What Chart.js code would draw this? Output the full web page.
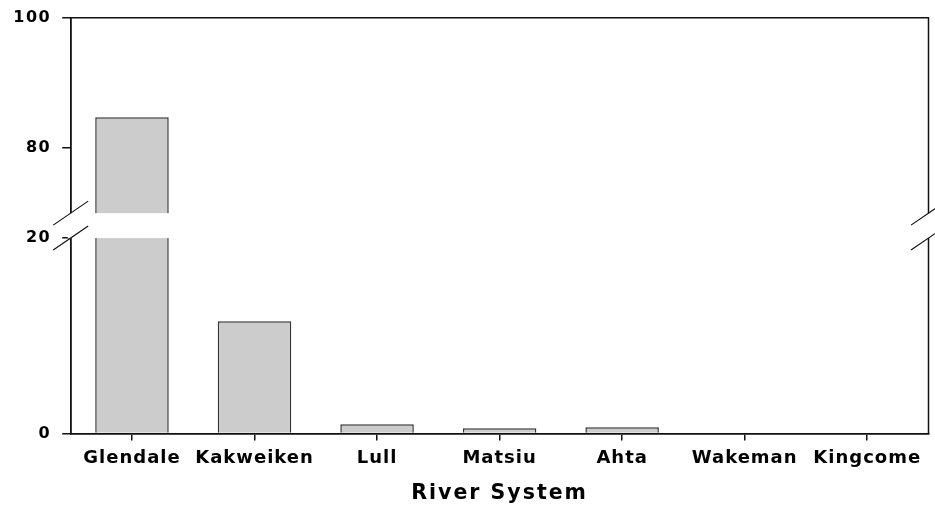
<!DOCTYPE html>
<html>
<head>
<meta charset="utf-8">
<script src="https://cdn.jsdelivr.net/npm/chart.js@4/dist/chart.umd.min.js"></script>
<style>
  html, body { margin: 0; padding: 0; background: #ffffff; }
  canvas { display: block; }
</style>
</head>
<body>
<canvas id="chart" width="935" height="506"></canvas>
<script>
// River systems and their bar heights
const rivers = ['Glendale', 'Kakweiken', 'Lull', 'Matsiu', 'Ahta', 'Wakeman', 'Kingcome'];
const values = [84.7, 11.5, 0.95, 0.55, 0.65, 0, 0];

// Value axis: labelled ticks and the two visible segments of the broken axis
const yTicks = [0, 20, 80, 100];
const lowerSegment = [0, 20];
const upperSegment = [70, 100];
const GAP_SHARE = 0.06;   // share of the plot height left blank at the break

const INK = '#111111';
const FONT = 'DejaVu Sans';

// Linear scale with a break: [0,20] fills the lower half, [70,100] the upper half
class BrokenScale extends Chart.LinearScale {
  static id = 'broken';
  static defaults = Chart.LinearScale.defaults;

  buildTicks() {
    return yTicks.map(v => ({ value: v }));
  }

  _fraction(v) {
    const seg = (1 - GAP_SHARE) / 2;
    const [l0, l1] = lowerSegment;
    const [u0, u1] = upperSegment;
    if (v <= l1) return (v - l0) / (l1 - l0) * seg;
    if (v >= u0) return seg + GAP_SHARE + (v - u0) / (u1 - u0) * seg;
    return seg + (v - l1) / (u0 - l1) * GAP_SHARE;
  }

  getPixelForValue(v) {
    if (v === null || v === undefined || isNaN(v)) return NaN;
    return this.bottom - this._fraction(v) * (this.bottom - this.top);
  }

  getValueForPixel(p) {
    const f = (this.bottom - p) / (this.bottom - this.top);
    const seg = (1 - GAP_SHARE) / 2;
    const [l0, l1] = lowerSegment;
    const [u0, u1] = upperSegment;
    if (f <= seg) return l0 + f / seg * (l1 - l0);
    if (f >= seg + GAP_SHARE) return u0 + (f - seg - GAP_SHARE) / seg * (u1 - u0);
    return l1 + (f - seg) / GAP_SHARE * (u0 - l1);
  }
}
Chart.register(BrokenScale);

// Draw a scale's text with extra letter spacing
function spaced(fn, spacing) {
  return function (...args) {
    const c = this.ctx;
    const prev = c.letterSpacing;
    c.letterSpacing = spacing;
    try { return fn.apply(this, args); } finally { c.letterSpacing = prev; }
  };
}

// Blank band at the break, slash marks, and the top/right frame
const axisBreak = {
  id: 'axisBreak',
  afterDatasetsDraw(chart) {
    const { ctx, chartArea: a, scales: { y } } = chart;
    const gTop = y.getPixelForValue(upperSegment[0]);
    const gBot = y.getPixelForValue(lowerSegment[1]);
    ctx.save();
    ctx.fillStyle = '#ffffff';
    ctx.fillRect(a.left - 3, gTop, a.right - a.left + 6, gBot - gTop);

    ctx.strokeStyle = INK;
    ctx.lineWidth = 1.5;
    ctx.beginPath();
    ctx.moveTo(a.left, a.top);
    ctx.lineTo(a.right, a.top);
    ctx.lineTo(a.right, gTop);
    ctx.moveTo(a.right, gBot);
    ctx.lineTo(a.right, a.bottom);
    ctx.stroke();

    ctx.lineWidth = 1.2;
    ctx.beginPath();
    for (const x of [a.left, a.right]) {
      for (const yy of [gTop, gBot]) {
        ctx.moveTo(x - 17.5, yy + 12);
        ctx.lineTo(x + 17.5, yy - 12);
      }
    }
    ctx.stroke();
    ctx.restore();
  }
};

new Chart(document.getElementById('chart'), {
  type: 'bar',
  data: {
    labels: rivers,
    datasets: [{
      data: values,
      backgroundColor: '#cccccc',
      borderColor: '#333333',
      borderWidth: 1.5,
      barPercentage: 0.6,
      categoryPercentage: 1.0
    }]
  },
  options: {
    responsive: false,
    animation: false,
    events: [],
    layout: { padding: { left: 12, right: 6.5, top: 17.7, bottom: 0 } },
    plugins: {
      legend: { display: false },
      tooltip: { enabled: false }
    },
    scales: {
      x: {
        type: 'category',
        grid: {
          display: true, drawOnChartArea: false, drawTicks: true,
          offset: false, tickLength: 7, color: INK, lineWidth: 1.5
        },
        border: { display: true, color: INK, width: 1.8, z: 1 },
        ticks: {
          color: '#000000', padding: 7, maxRotation: 0, autoSkip: false,
          font: { family: FONT, weight: 'bold', size: 18 }
        },
        title: {
          display: true, text: 'River System', color: '#000000',
          font: { family: FONT, weight: 'bold', size: 20.5 },
          padding: { top: 0, bottom: 0 }
        },
        afterFit(s) {
          s.height = 72.5;
          s.drawLabels = spaced(Chart.Scale.prototype.drawLabels, '1px');
          s.drawTitle = spaced(Chart.Scale.prototype.drawTitle, '2px');
        }
      },
      y: {
        type: 'broken',
        min: 0,
        max: 100,
        grid: {
          display: true, drawOnChartArea: false, drawTicks: true,
          tickLength: 8.5, color: INK, lineWidth: 1.5
        },
        border: { display: true, color: INK, width: 1.8 },
        ticks: {
          color: '#000000', padding: 11,
          callback: v => String(v),
          font: { family: FONT, weight: 'bold', size: 16, lineHeight: 0.8 }
        },
        afterFit(s) {
          s.width = 58.7;
          s.drawLabels = spaced(Chart.Scale.prototype.drawLabels, '1.5px');
        }
      }
    }
  },
  plugins: [axisBreak]
});
</script>
</body>
</html>
